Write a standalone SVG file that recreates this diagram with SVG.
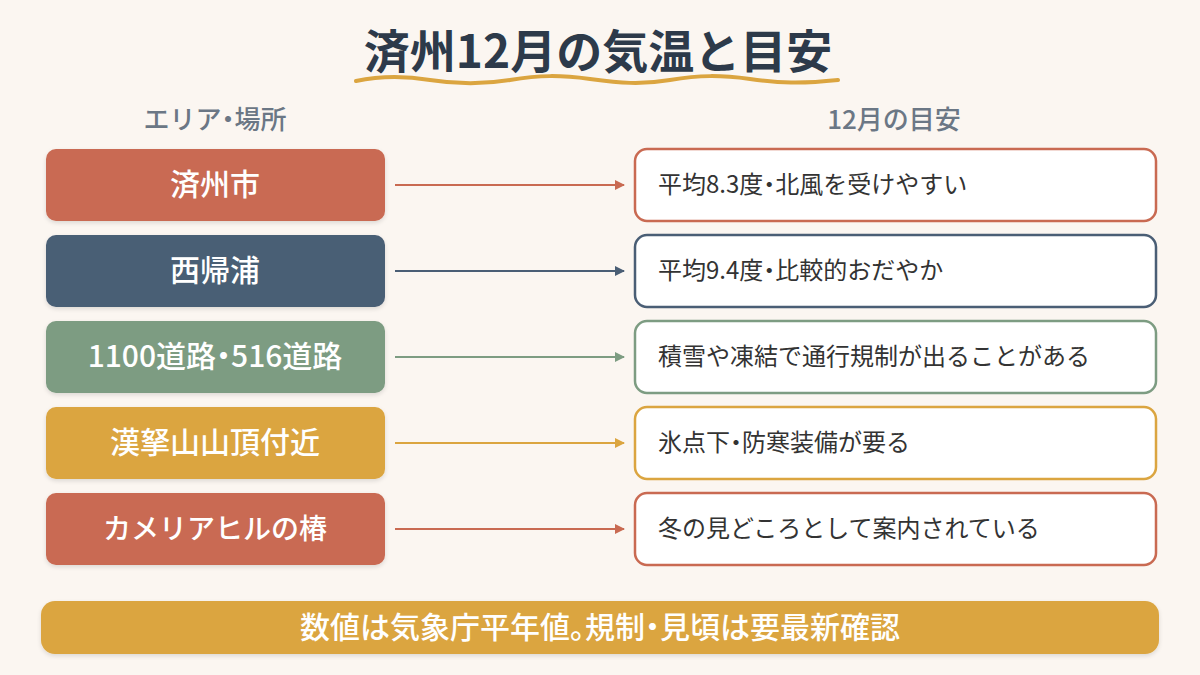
<svg xmlns="http://www.w3.org/2000/svg" width="1200" height="675" viewBox="0 0 1200 675">
<defs>
<filter id="sh" x="-10%" y="-20%" width="120%" height="150%"><feDropShadow dx="0" dy="2" stdDeviation="2" flood-color="#000" flood-opacity="0.12"/></filter>
<marker id="aR" viewBox="0 0 10 10" refX="9" refY="5" markerWidth="10" markerHeight="10" markerUnits="userSpaceOnUse" orient="auto"><path d="M0,0 L10,5 L0,10 z" fill="#c96a52"/></marker>
<marker id="aN" viewBox="0 0 10 10" refX="9" refY="5" markerWidth="10" markerHeight="10" markerUnits="userSpaceOnUse" orient="auto"><path d="M0,0 L10,5 L0,10 z" fill="#4a5e75"/></marker>
<marker id="aG" viewBox="0 0 10 10" refX="9" refY="5" markerWidth="10" markerHeight="10" markerUnits="userSpaceOnUse" orient="auto"><path d="M0,0 L10,5 L0,10 z" fill="#7d9c82"/></marker>
<marker id="aY" viewBox="0 0 10 10" refX="9" refY="5" markerWidth="10" markerHeight="10" markerUnits="userSpaceOnUse" orient="auto"><path d="M0,0 L10,5 L0,10 z" fill="#dba540"/></marker>
</defs>
<style>
text{font-family:"Noto Sans CJK JP","Noto Sans",sans-serif}
.h{font-feature-settings:"halt"}
.title{font-size:46px;font-weight:700;fill:#2d3a4a;text-anchor:middle}
.hdr{font-size:26px;font-weight:500;fill:#6b7785;text-anchor:middle}
.lt{font-size:30px;font-weight:500;fill:#fff;text-anchor:middle}
.rt{font-size:24px;fill:#333;}
.rb{fill:#fff;stroke-width:2.5}
.ln{stroke-width:2;fill:none}
.ft{font-size:30px;font-weight:500;fill:#fff;text-anchor:middle}
</style>
<rect width="1200" height="675" fill="#fbf6f1"/>
<g id="title">
<text class="title" x="598" y="68">済州12月の気温と目安</text>
<path d="M356,81 C380,76 405,76 430,80 S480,85 510,80 S560,75 590,79 S640,85 670,80 S720,75 750,79 S800,84 838,80" stroke="#dba540" stroke-width="4" fill="none" stroke-linecap="round"/>
</g>
<g id="headers">
<text class="hdr" x="215" y="129">エリア<tspan class="h">・</tspan>場所</text>
<text class="hdr" x="894" y="129">12月の目安</text>
</g>
<g id="connectors">
<line class="ln" x1="395" y1="185" x2="624" y2="185" stroke="#c96a52" marker-end="url(#aR)"/>
<line class="ln" x1="395" y1="271" x2="624" y2="271" stroke="#4a5e75" marker-end="url(#aN)"/>
<line class="ln" x1="395" y1="357" x2="624" y2="357" stroke="#7d9c82" marker-end="url(#aG)"/>
<line class="ln" x1="395" y1="443" x2="624" y2="443" stroke="#dba540" marker-end="url(#aY)"/>
<line class="ln" x1="395" y1="529" x2="624" y2="529" stroke="#c96a52" marker-end="url(#aR)"/>
</g>
<g id="n1"><rect x="46" y="149" width="339" height="72" rx="10" fill="#c96a52" filter="url(#sh)"/><text class="lt" x="215" y="195">済州市</text></g>
<g id="n2"><rect x="46" y="235" width="339" height="72" rx="10" fill="#4a5e75" filter="url(#sh)"/><text class="lt" x="215" y="281">西帰浦</text></g>
<g id="n3"><rect x="46" y="321" width="339" height="72" rx="10" fill="#7d9c82" filter="url(#sh)"/><text class="lt" x="215" y="367">1100道路<tspan class="h">・</tspan>516道路</text></g>
<g id="n4"><rect x="46" y="407" width="339" height="72" rx="10" fill="#dba540" filter="url(#sh)"/><text class="lt" x="215" y="453">漢拏山山頂付近</text></g>
<g id="n5"><rect x="46" y="493" width="339" height="72" rx="10" fill="#c96a52" filter="url(#sh)"/><text class="lt" x="215" y="539" style="font-size:28px">カメリアヒルの椿</text></g>
<g id="r1"><rect class="rb" x="635" y="149" width="521" height="72" rx="12" stroke="#c96a52"/><text class="rt" x="658" y="193">平均8.3度<tspan class="h">・</tspan>北風を受けやすい</text></g>
<g id="r2"><rect class="rb" x="635" y="235" width="521" height="72" rx="12" stroke="#4a5e75"/><text class="rt" x="658" y="279">平均9.4度<tspan class="h">・</tspan>比較的おだやか</text></g>
<g id="r3"><rect class="rb" x="635" y="321" width="521" height="72" rx="12" stroke="#7d9c82"/><text class="rt" x="658" y="365">積雪や凍結で通行規制が出ることがある</text></g>
<g id="r4"><rect class="rb" x="635" y="407" width="521" height="72" rx="12" stroke="#dba540"/><text class="rt" x="658" y="451">氷点下<tspan class="h">・</tspan>防寒装備が要る</text></g>
<g id="r5"><rect class="rb" x="635" y="493" width="521" height="72" rx="12" stroke="#c96a52"/><text class="rt" x="658" y="537">冬の見どころとして案内されている</text></g>
<g id="footer"><rect x="41" y="601" width="1118" height="53" rx="14" fill="#dba540" filter="url(#sh)"/><text class="ft" x="600" y="638">数値は気象庁平年値<tspan class="h">。</tspan>規制<tspan class="h">・</tspan>見頃は要最新確認</text></g>
</svg>
